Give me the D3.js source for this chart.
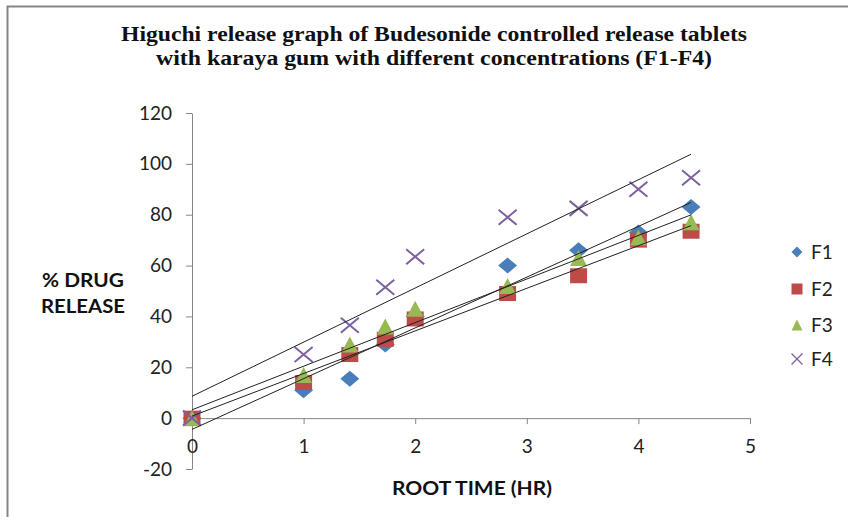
<!DOCTYPE html>
<html>
<head>
<meta charset="utf-8">
<script src="https://cdn.jsdelivr.net/npm/d3@7"></script>
<style>
  body { margin: 0; background: #fff; }
  svg { display: block; }
  .tick text { font-family: Lato, "Liberation Sans", sans-serif; font-size: 19px; fill: #222; }
  .axis-title { font-family: Lato, "Liberation Sans", sans-serif; font-weight: bold; font-size: 18px; fill: #111; }
  .title { font-family: "Liberation Serif", "Times New Roman", serif; font-weight: bold; font-size: 20px; fill: #111; }
  .legend text { font-family: Lato, "Liberation Sans", sans-serif; font-size: 19px; fill: #222; }
</style>
</head>
<body>
<div id="chart"></div>
<script>
// data: x = square root of time (hr), y = % drug release
const rootTime = [0, 1, 1.414, 1.732, 2, 2.828, 3.464, 4, 4.472];
const f1 = [0, 11, 15.5, 29, 40, 60, 66, 73, 83];
const f2 = [0, 14, 25, 31, 39, 49, 56, 70, 73.5];
const f3 = [0, 17, 29, 36, 43, 52, 63, 71, 77];
const f4 = [0, 25, 36.5, 51.5, 63.5, 79, 82.5, 90, 94.5];
const seriesNames = ["F1", "F2", "F3", "F4"];
const yTicks = [-20, 0, 20, 40, 60, 80, 100, 120];
const xTicks = [0, 1, 2, 3, 4, 5];

const allSeries = [f1, f2, f3, f4];
const colors = ["#4A7EBB", "#BE4B48", "#98B954", "#7D60A0"];

const width = 848, height = 517;
const svg = d3.select("#chart").append("svg")
  .attr("width", width).attr("height", height);

// frame (only top and left edges show in the crop)
svg.append("path")
  .attr("d", "M7.5,517 V6.5 H848")
  .attr("fill", "none")
  .attr("stroke", "#858585")
  .attr("stroke-width", 2);

// scales
const x = d3.scaleLinear().domain([0, 5]).range([192, 750]);
const y = d3.scaleLinear().domain([-20, 120]).range([469, 113]);

// title (the source text is stretched a bit wide, so fit it to its width)
const title = svg.append("text").attr("class", "title").attr("text-anchor", "middle");
title.append("tspan").attr("x", 434).attr("y", 41)
  .attr("textLength", 626).attr("lengthAdjust", "spacingAndGlyphs")
  .text("Higuchi release graph of Budesonide controlled release tablets");
title.append("tspan").attr("x", 434).attr("y", 65)
  .attr("textLength", 556).attr("lengthAdjust", "spacingAndGlyphs")
  .text("with karaya gum with different concentrations (F1-F4)");

// axes
const yAxis = svg.append("g")
  .attr("transform", `translate(${x(0)},0)`)
  .call(d3.axisLeft(y).tickValues(yTicks).tickFormat((d) => String(d))
    .tickSize(6).tickSizeOuter(0).tickPadding(14));

const xAxis = svg.append("g")
  .attr("transform", `translate(0,${y(0)})`)
  .call(d3.axisBottom(x).tickValues(xTicks).tickFormat((d) => String(d))
    .tickSize(6).tickSizeOuter(0).tickPadding(15));

[yAxis, xAxis].forEach((g) => {
  g.select(".domain").attr("stroke", "#868686");
  g.selectAll(".tick line").attr("stroke", "#868686");
});

// axis titles
const yTitle = svg.append("text").attr("class", "axis-title").attr("text-anchor", "middle");
yTitle.append("tspan").attr("x", 83).attr("y", 287)
  .attr("textLength", 82).attr("lengthAdjust", "spacingAndGlyphs").text("% DRUG");
yTitle.append("tspan").attr("x", 83).attr("y", 313)
  .attr("textLength", 84).attr("lengthAdjust", "spacingAndGlyphs").text("RELEASE");

svg.append("text").attr("class", "axis-title")
  .attr("text-anchor", "middle")
  .attr("x", 472).attr("y", 495)
  .attr("textLength", 160).attr("lengthAdjust", "spacingAndGlyphs")
  .text("ROOT TIME (HR)");

// markers
const markerPath = (i, w, h) => {
  const a = w / 2, b = h / 2;
  if (i === 0) return `M0,${-b}L${a},0L0,${b}L${-a},0Z`;
  if (i === 1) return `M${-a},${-b}H${a}V${b}H${-a}Z`;
  if (i === 2) return `M0,${-b}L${a},${b}L${-a},${b}Z`;
  return `M${-a},${-b}L${a},${b}M${a},${-b}L${-a},${b}`;
};

const markerSize = [[19, 16], [17, 15], [17, 16], [18, 15]];

allSeries.forEach((vals, i) => {
  const pts = rootTime.map((t, j) => [t, vals[j]]);
  svg.append("g")
    .selectAll("path")
    .data(pts)
    .enter()
    .append("path")
    .attr("transform", (d) => `translate(${x(d[0])},${y(d[1])})`)
    .attr("d", markerPath(i, markerSize[i][0], markerSize[i][1]))
    .attr("fill", i === 3 ? "none" : colors[i])
    .attr("stroke", i === 3 ? colors[i] : "none")
    .attr("stroke-width", 2);
});

// linear trendlines (least squares)
const line = d3.line().x((d) => x(d[0])).y((d) => y(d[1]));
allSeries.forEach((vals) => {
  const mx = d3.mean(rootTime), my = d3.mean(vals);
  const sxy = d3.sum(rootTime, (t, j) => (t - mx) * (vals[j] - my));
  const sxx = d3.sum(rootTime, (t) => (t - mx) * (t - mx));
  const slope = sxy / sxx;
  const icpt = my - slope * mx;
  const x0 = d3.min(rootTime), x1 = d3.max(rootTime);
  svg.append("path")
    .attr("d", line([[x0, icpt + slope * x0], [x1, icpt + slope * x1]]))
    .attr("fill", "none")
    .attr("stroke", "#222")
    .attr("stroke-width", 1);
});

// legend
const legend = svg.append("g").attr("class", "legend");
const legendY = [252, 289, 325, 359];
seriesNames.forEach((name, i) => {
  legend.append("path")
    .attr("transform", `translate(797,${legendY[i]})`)
    .attr("d", markerPath(i, 11, 11))
    .attr("fill", i === 3 ? "none" : colors[i])
    .attr("stroke", i === 3 ? colors[i] : "none")
    .attr("stroke-width", 1.3);
  legend.append("text")
    .attr("x", 811).attr("y", legendY[i] + 7)
    .text(name);
});
</script>
</body>
</html>
